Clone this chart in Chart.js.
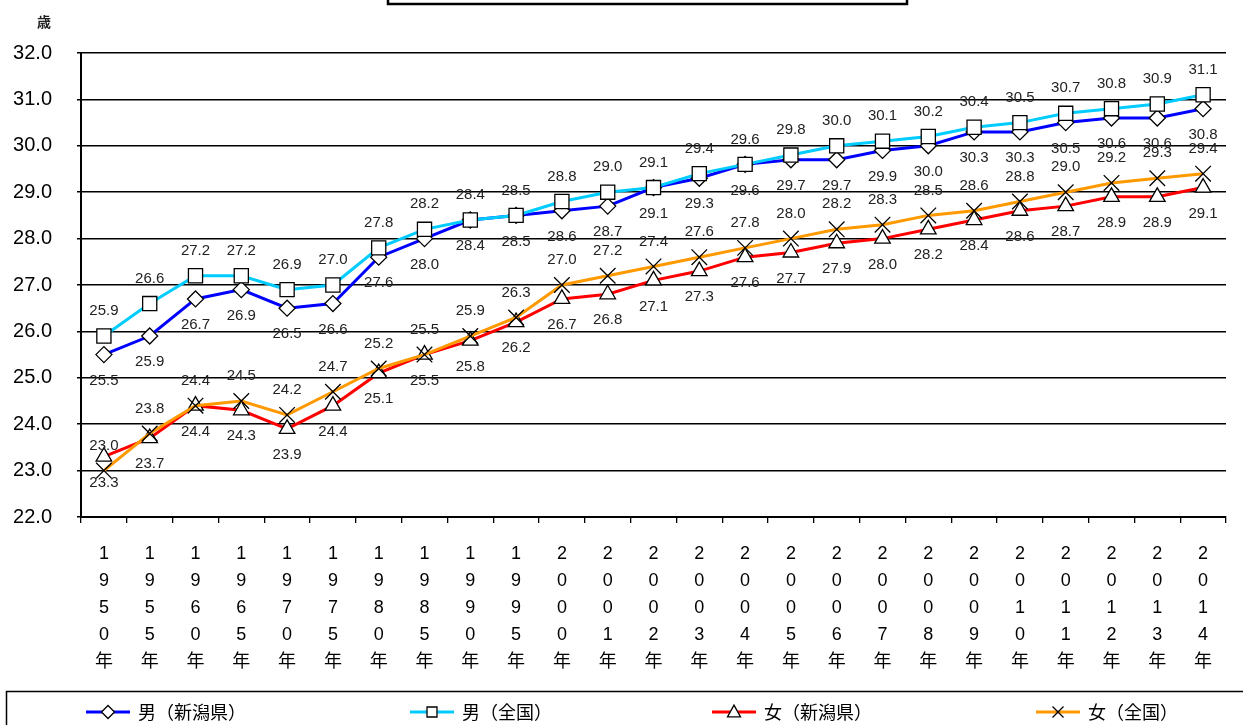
<!DOCTYPE html>
<html lang="ja">
<head>
<meta charset="utf-8">
<title>平均初婚年齢の推移</title>
<script src="https://cdn.jsdelivr.net/npm/chart.js@4/dist/chart.umd.min.js"></script>
<style>
  html, body { margin: 0; padding: 0; background: #fff; }
  #wrap { width: 1243px; height: 725px; position: relative; overflow: hidden; }
  canvas { display: block; }
</style>
</head>
<body>
<div id="wrap"><canvas id="c" width="1243" height="725"></canvas></div>
<script>
// 年次（カテゴリ）
const years = ['1950', '1955', '1960', '1965', '1970', '1975', '1980', '1985', '1990', '1995',
  '2000', '2001', '2002', '2003', '2004', '2005', '2006', '2007', '2008', '2009',
  '2010', '2011', '2012', '2013', '2014'];

// 平均初婚年齢（歳）
const maleNiigata = [25.5, 25.9, 26.7, 26.9, 26.5, 26.6, 27.6, 28.0, 28.4, 28.5,
  28.6, 28.7, 29.1, 29.3, 29.6, 29.7, 29.7, 29.9, 30.0, 30.3,
  30.3, 30.5, 30.6, 30.6, 30.8];
const maleNational = [25.9, 26.6, 27.2, 27.2, 26.9, 27.0, 27.8, 28.2, 28.4, 28.5,
  28.8, 29.0, 29.1, 29.4, 29.6, 29.8, 30.0, 30.1, 30.2, 30.4,
  30.5, 30.7, 30.8, 30.9, 31.1];
const femaleNiigata = [23.3, 23.7, 24.4, 24.3, 23.9, 24.4, 25.1, 25.5, 25.8, 26.2,
  26.7, 26.8, 27.1, 27.3, 27.6, 27.7, 27.9, 28.0, 28.2, 28.4,
  28.6, 28.7, 28.9, 28.9, 29.1];
const femaleNational = [23.0, 23.8, 24.4, 24.5, 24.2, 24.7, 25.2, 25.5, 25.9, 26.3,
  27.0, 27.2, 27.4, 27.6, 27.8, 28.0, 28.2, 28.3, 28.5, 28.6,
  28.8, 29.0, 29.2, 29.3, 29.4];

// 系列名
const seriesNames = ['男（新潟県）', '男（全国）', '女（新潟県）', '女（全国）'];

// 縦軸
const yMin = 22;
const yMax = 32;
const yStep = 1;
const yUnit = '歳';

const FONT = '"Liberation Sans", Arial, "Noto Sans CJK JP", sans-serif';

// 年の表記を縦書き（1文字ずつ改行）にする
const yearLabels = years.map(y => [...(y + '年')]);

function series(label, data, color, style, radius, labelPos, order) {
  return {
    label, data,
    borderColor: color,
    backgroundColor: color,
    borderWidth: 3,
    pointStyle: style,
    pointRadius: radius,
    pointHoverRadius: radius,
    pointBackgroundColor: '#fff',
    pointBorderColor: '#000',
    pointBorderWidth: 1.3,
    tension: 0,
    fill: false,
    order,
    labelPos
  };
}

const datasets = [
  series(seriesNames[0], maleNiigata, '#0000ff', 'rectRot', 8, 'below', 4),
  series(seriesNames[1], maleNational, '#00ccff', 'rect', 10, 'above', 3),
  series(seriesNames[2], femaleNiigata, '#ff0000', 'triangle', 9, 'below', 2),
  series(seriesNames[3], femaleNational, '#ff9900', 'crossRot', 11, 'above', 1)
];

// 各点の値ラベル
const valueLabels = {
  id: 'valueLabels',
  afterDatasetsDraw(chart) {
    const ctx = chart.ctx;
    ctx.save();
    ctx.font = '15px ' + FONT;
    ctx.fillStyle = '#222';
    ctx.textAlign = 'center';
    ctx.textBaseline = 'middle';
    chart.data.datasets.forEach((ds, i) => {
      const meta = chart.getDatasetMeta(i);
      const dy = ds.labelPos === 'above' ? -25 : 26;
      meta.data.forEach((pt, j) => {
        ctx.fillText(ds.data[j].toFixed(1), pt.x, pt.y + dy);
      });
    });
    ctx.restore();
  }
};

// 凡例マーカー
function marker(ctx, style, x, y, r) {
  ctx.beginPath();
  if (style === 'rectRot') {
    ctx.moveTo(x, y - r); ctx.lineTo(x + r, y); ctx.lineTo(x, y + r); ctx.lineTo(x - r, y); ctx.closePath();
    ctx.fill(); ctx.stroke();
  } else if (style === 'rect') {
    ctx.rect(x - r, y - r, 2 * r, 2 * r);
    ctx.fill(); ctx.stroke();
  } else if (style === 'triangle') {
    ctx.moveTo(x, y - r * 1.05); ctx.lineTo(x + r, y + r * 0.75); ctx.lineTo(x - r, y + r * 0.75); ctx.closePath();
    ctx.fill(); ctx.stroke();
  } else {
    ctx.moveTo(x - r, y - r); ctx.lineTo(x + r, y + r);
    ctx.moveTo(x + r, y - r); ctx.lineTo(x - r, y + r);
    ctx.stroke();
  }
}

// 凡例・単位・見出し枠
const frame = {
  id: 'frame',
  afterDraw(chart) {
    const ctx = chart.ctx;
    ctx.save();
    // 見出し枠
    ctx.strokeStyle = '#000';
    ctx.lineWidth = 2.5;
    ctx.strokeRect(388, -10, 519, 14);

    // 単位
    ctx.fillStyle = '#222';
    ctx.font = 'bold 14px "Noto Sans CJK JP", sans-serif';
    ctx.textAlign = 'center';
    ctx.textBaseline = 'middle';
    ctx.fillText(yUnit, 44, 22);

    // 凡例枠
    ctx.lineWidth = 1.5;
    ctx.strokeStyle = '#000';
    ctx.strokeRect(6.5, 691.5, 1260, 60);

    const slots = [86, 410, 712, 1036];
    const ly = 712;
    chart.data.datasets.forEach((ds, i) => {
      const x0 = slots[i];
      ctx.strokeStyle = ds.borderColor;
      ctx.lineWidth = 3;
      ctx.beginPath();
      ctx.moveTo(x0, ly);
      ctx.lineTo(x0 + 44, ly);
      ctx.stroke();
      ctx.fillStyle = '#fff';
      ctx.strokeStyle = '#000';
      ctx.lineWidth = 1.3;
      const r = ds.pointStyle === 'rect' ? 5 : (ds.pointStyle === 'crossRot' ? 5.5 : 6.5);
      marker(ctx, ds.pointStyle, x0 + 22, ly, r);
      ctx.fillStyle = '#000';
      ctx.font = '18px "Noto Sans CJK JP", sans-serif';
      ctx.textAlign = 'left';
      ctx.textBaseline = 'middle';
      ctx.fillText(ds.label, x0 + 52, ly);
    });
    ctx.restore();
  }
};

new Chart(document.getElementById('c'), {
  type: 'line',
  data: { labels: yearLabels, datasets },
  options: {
    responsive: false,
    animation: false,
    events: [],
    layout: { padding: { top: 53, right: 17, left: 0, bottom: 0 } },
    plugins: {
      legend: { display: false },
      title: { display: false },
      tooltip: { enabled: false }
    },
    scales: {
      x: {
        type: 'category',
        offset: true,
        grid: {
          display: true,
          offset: true,
          drawOnChartArea: false,
          drawTicks: true,
          tickLength: 6,
          color: '#000',
          lineWidth: 1.3
        },
        border: { display: true, color: '#000', width: 2 },
        ticks: {
          autoSkip: false,
          maxRotation: 0,
          minRotation: 0,
          padding: 18,
          color: '#000',
          font: { family: FONT, size: 18, lineHeight: 1.5 }
        },
        afterFit(scale) { scale.height = 208; }
      },
      y: {
        min: yMin,
        max: yMax,
        grid: {
          color: '#000',
          lineWidth: 1.5,
          tickLength: 4,
          drawTicks: true
        },
        border: { display: true, color: '#000', width: 2 },
        ticks: {
          stepSize: yStep,
          padding: 25,
          color: '#000',
          font: { family: FONT, size: 20 },
          callback: v => Number(v).toFixed(1)
        },
        afterFit(scale) { scale.width = 81; }
      }
    }
  },
  plugins: [valueLabels, frame]
});
</script>
</body>
</html>
